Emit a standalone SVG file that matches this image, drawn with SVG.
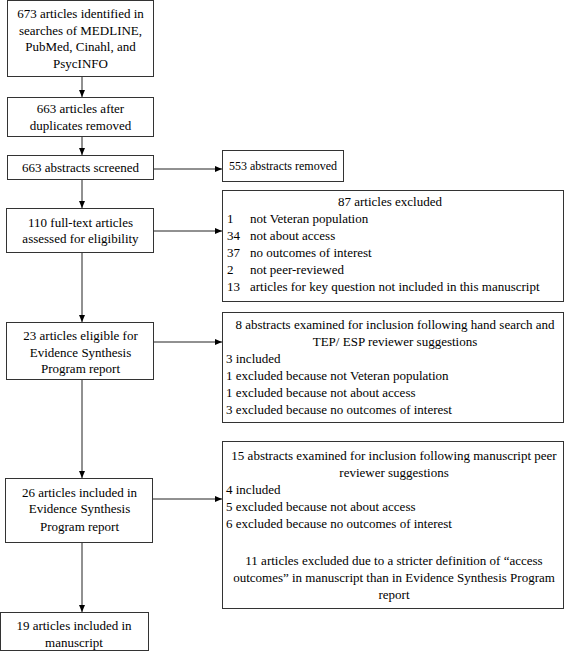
<svg xmlns="http://www.w3.org/2000/svg" width="567" height="660" viewBox="0 0 567 660">
<defs>
<marker id="ah" viewBox="0 0 7 6" refX="7" refY="3" markerWidth="7" markerHeight="6" markerUnits="userSpaceOnUse" orient="auto">
<path d="M0,0 L7,3 L0,6 Z" fill="#000"/>
</marker>
<style>
.box{fill:#fff;stroke:#333;stroke-width:1}
text{font-family:"Liberation Serif","Times New Roman",serif;font-size:13px;fill:#000}
.c{text-anchor:middle}
.s{font-size:12px}
.e{stroke:#222;stroke-width:1;fill:none;marker-end:url(#ah)}
</style>
</defs>
<rect width="567" height="660" fill="#fff"/>
<g id="connectors">
<path class="e" d="M82,77 V97"/>
<path class="e" d="M82,137 V155"/>
<path class="e" d="M82,180 V208"/>
<path class="e" d="M82,253 V322"/>
<path class="e" d="M82,380 V478"/>
<path class="e" d="M82,543 V612"/>
<path class="e" d="M154,169 H222"/>
<path class="e" d="M154,231 H222"/>
<path class="e" d="M154,342 H222"/>
<path class="e" d="M153,499 H222"/>
</g>
<g id="n1">
<rect class="box" x="7.5" y="0.5" width="146" height="76"/>
<text class="c" x="80.5" y="17.5">673 articles identified in</text>
<text class="c" x="80.5" y="34.5">searches of MEDLINE,</text>
<text class="c" x="80.5" y="51">PubMed, Cinahl, and</text>
<text class="c" x="80.5" y="68">PsycINFO</text>
</g>
<g id="n2">
<rect class="box" x="7.5" y="97.5" width="146" height="39"/>
<text class="c" x="80.5" y="113">663 articles after</text>
<text class="c" x="80.5" y="130">duplicates removed</text>
</g>
<g id="n3">
<rect class="box" x="7.5" y="155.5" width="146" height="24"/>
<text class="c" x="80.5" y="172">663 abstracts screened</text>
</g>
<g id="n4">
<rect class="box" x="6.5" y="208.5" width="147" height="44"/>
<text class="c" x="80.5" y="226.5">110 full-text articles</text>
<text class="c" x="80.5" y="243">assessed for eligibility</text>
</g>
<g id="n5">
<rect class="box" x="6.5" y="322.5" width="147" height="57"/>
<text class="c" x="80.5" y="339.5">23 articles eligible for</text>
<text class="c" x="80.5" y="356.5">Evidence Synthesis</text>
<text class="c" x="80.5" y="373">Program report</text>
</g>
<g id="n6">
<rect class="box" x="5.5" y="478.5" width="147" height="64"/>
<text class="c" x="79.5" y="496.5">26 articles included in</text>
<text class="c" x="79.5" y="513">Evidence Synthesis</text>
<text class="c" x="79.5" y="530.5">Program report</text>
</g>
<g id="n7">
<rect class="box" x="0.5" y="612.5" width="148" height="38"/>
<text class="c" x="74" y="629.5">19 articles included in</text>
<text class="c" x="74" y="646.5">manuscript</text>
</g>
<g id="r1">
<rect class="box" x="222.5" y="150.5" width="121" height="31"/>
<text class="c s" x="283" y="170">553 abstracts removed</text>
</g>
<g id="r2">
<rect class="box" x="222.5" y="190.5" width="341" height="111"/>
<text class="c" x="390" y="206">87 articles excluded</text>
<text x="227" y="223">1</text><text x="250" y="223">not Veteran population</text>
<text x="227" y="240">34</text><text x="250" y="240">not about access</text>
<text x="227" y="257">37</text><text x="250" y="257">no outcomes of interest</text>
<text x="227" y="274">2</text><text x="250" y="274">not peer-reviewed</text>
<text x="227" y="291">13</text><text x="250" y="291">articles for key question not included in this manuscript</text>
</g>
<g id="r3">
<rect class="box" x="222.5" y="312.5" width="341" height="110"/>
<text class="c" x="395" y="329">8 abstracts examined for inclusion following hand search and</text>
<text class="c" x="395" y="346">TEP/ ESP reviewer suggestions</text>
<text x="226" y="363">3 included</text>
<text x="226" y="380">1 excluded because not Veteran population</text>
<text x="226" y="397">1 excluded because not about access</text>
<text x="226" y="414">3 excluded because no outcomes of interest</text>
</g>
<g id="r4">
<rect class="box" x="222.5" y="441.5" width="341" height="167"/>
<text class="c" x="394" y="460">15 abstracts examined for inclusion following manuscript peer</text>
<text class="c" x="394" y="477">reviewer suggestions</text>
<text x="226" y="494">4 included</text>
<text x="226" y="511">5 excluded because not about access</text>
<text x="226" y="528">6 excluded because no outcomes of interest</text>
<text class="c" x="394" y="565">11 articles excluded due to a stricter definition of “access</text>
<text class="c" x="394" y="582">outcomes” in manuscript than in Evidence Synthesis Program</text>
<text class="c" x="394" y="599">report</text>
</g>
</svg>
